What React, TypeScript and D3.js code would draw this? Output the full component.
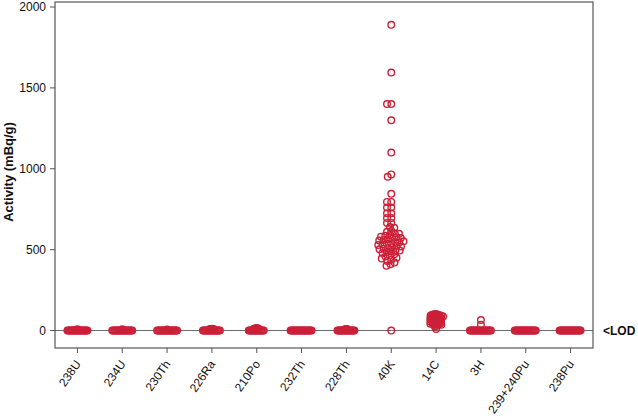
import React from "react";
import * as d3 from "d3";

const categories = ["238U", "234U", "230Th", "226Ra", "210Po", "232Th", "228Th", "40K", "14C", "3H", "239+240Pu", "238Pu"];

const v238U = [0, 0, 0, 0, 0, 0, 0, 0, 0, 0, 0, 0, 0, 0, 0, 0, 0, 0, 0, 0, 0, 8];
const v234U = [0, 0, 0, 0, 0, 0, 0, 0, 0, 0, 0, 0, 0, 0, 0, 0, 0, 0, 0, 0, 0, 8];
const v230Th = [0, 0, 0, 0, 0, 0, 0, 0, 0, 0, 0, 0, 0, 0, 0, 0, 0, 0, 0, 0, 0, 7];
const v226Ra = [0, 0, 0, 0, 0, 0, 0, 0, 0, 0, 0, 0, 0, 0, 0, 0, 0, 0, 8, 10, 9, 10, 11];
const v210Po = [0, 0, 0, 0, 0, 0, 0, 0, 0, 0, 0, 0, 0, 0, 0, 0, 10, 12, 14, 16, 13, 11];
const v232Th = [0, 0, 0, 0, 0, 0, 0, 0, 0, 0, 0, 0, 0, 0, 0, 0, 0, 0, 0, 0, 0, 0];
const v228Th = [0, 0, 0, 0, 0, 0, 0, 0, 0, 0, 0, 0, 0, 0, 0, 0, 0, 0, 8, 9, 8, 7];
const v40K = [1890, 1595, 1400, 1400, 1300, 1100, 965, 950, 845, 795, 795, 760, 760, 725, 725, 695, 695, 665, 665, 640, 635, 615, 610, 600, 598, 590, 586, 580, 576, 572, 568, 565, 560, 556, 552, 548, 545, 540, 536, 532, 528, 524, 520, 515, 510, 506, 502, 498, 494, 490, 485, 480, 472, 465, 458, 450, 445, 438, 430, 420, 410, 400, 0];
const v14C = [102, 100, 98, 97, 95, 93, 92, 90, 88, 87, 85, 83, 82, 80, 78, 76, 74, 72, 70, 68, 66, 65, 62, 60, 58, 56, 55, 52, 50, 48, 46, 45, 44, 42, 40, 38, 36, 35, 30, 25, 10];
const v3H = [0, 0, 0, 0, 0, 0, 0, 0, 0, 0, 0, 0, 0, 0, 0, 0, 0, 0, 0, 0, 0, 0, 35, 65];
const v239Pu = [0, 0, 0, 0, 0, 0, 0, 0, 0, 0, 0, 0, 0, 0, 0, 0, 0, 0, 0, 0, 0, 0];
const v238Pu = [0, 0, 0, 0, 0, 0, 0, 0, 0, 0, 0, 0, 0, 0, 0, 0, 0, 0, 0, 0, 0, 0];

const seriesValues = [v238U, v234U, v230Th, v226Ra, v210Po, v232Th, v228Th, v40K, v14C, v3H, v239Pu, v238Pu];
const yTicks = [0, 500, 1000, 1500, 2000];

const W = 638, H = 420;
const M = { left: 55, right: 593, top: 2, bottom: 348 };
const RED = "#cc2038";
const SPACING = [1, 1, 1, 1, 1, 1, 1, 4.2, 1.8, 1, 1, 1];

function swarm(vals: number[], y: (v: number) => number, minDist: number) {
  const sorted = vals.map((v, i) => ({ v, i })).sort((a, b) => b.v - a.v);
  const placed: { x: number; y: number }[] = [];
  for (const p of sorted) {
    const py = y(p.v);
    let chosen = 0;
    for (let k = 0; k < 800; k++) {
      const off = (k % 2 === 0 ? 1 : -1) * Math.ceil(k / 2) * 0.25;
      const ok = placed.every((q) => Math.hypot(q.x - off, q.y - py) >= minDist - 1e-6);
      if (ok) { chosen = off; break; }
    }
    placed.push({ x: chosen, y: py });
  }
  return placed;
}

export default function App() {
  const x = d3.scalePoint<string>().domain(categories).range([M.left, M.right]).padding(0.5);
  const y = d3.scaleLinear().domain([-108, 2031]).range([M.bottom, M.top]);

  return (
    <svg width={W} height={H} style={{ position: "absolute", left: 0, top: 0, fontFamily: "Liberation Sans, Arial, sans-serif" }}>
      <rect x={0} y={0} width={W} height={H} fill="#fff" />
      <line x1={M.left} x2={M.right} y1={y(0)} y2={y(0)} stroke="#6a6a6a" strokeWidth={1} />
      {categories.map((c, ci) => {
        const pts = swarm(seriesValues[ci], y, SPACING[ci]);
        return (
          <g key={c}>
            {pts.map((p, i) => (
              <circle key={i} cx={(x(c) as number) + p.x} cy={p.y} r={3.3} fill="none" stroke={RED} strokeWidth={1.4} />
            ))}
          </g>
        );
      })}
      <rect x={M.left} y={M.top} width={M.right - M.left} height={M.bottom - M.top} fill="none" stroke="#555" strokeWidth={1.2} />
      {yTicks.map((t) => (
        <g key={t}>
          <line x1={M.left - 5} x2={M.left} y1={y(t)} y2={y(t)} stroke="#555" />
          <text x={M.left - 9} y={y(t)} dy="0.35em" textAnchor="end" fontSize={12} fill="#111">{t}</text>
        </g>
      ))}
      {categories.map((c) => {
        const cx = x(c) as number;
        return (
          <g key={c}>
            <line x1={cx} x2={cx} y1={M.bottom} y2={M.bottom + 5} stroke="#555" />
            <text transform={`translate(${cx + 4},${M.bottom + 16}) rotate(-55)`} textAnchor="end" fontSize={12} fill="#111">{c}</text>
          </g>
        );
      })}
      <text transform={`translate(13,${(M.top + M.bottom) / 2 - 3}) rotate(-90)`} textAnchor="middle" fontSize={13} fontWeight="bold" fill="#111">Activity (mBq/g)</text>
      <text x={603} y={y(0)} dy="0.35em" fontSize={12} fontWeight="bold" fill="#111">&lt;LOD</text>
    </svg>
  );
}
